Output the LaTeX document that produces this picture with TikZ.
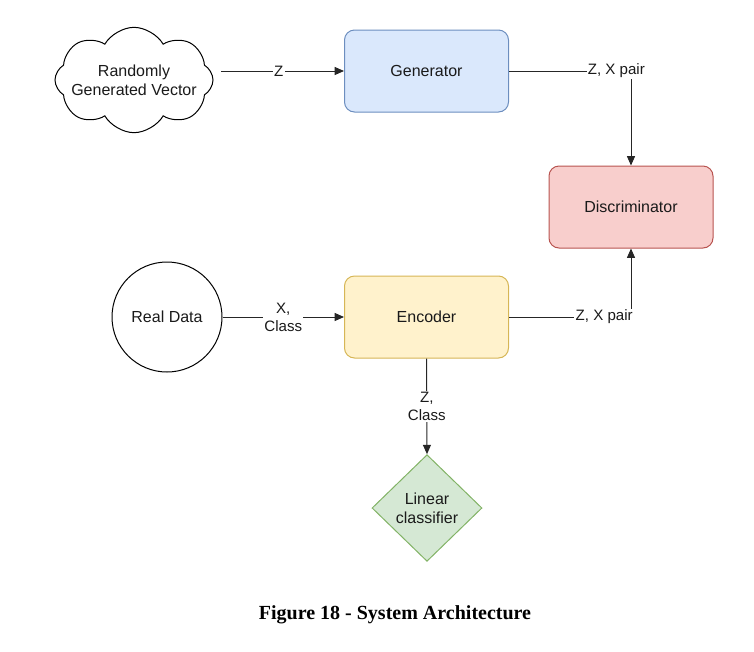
\documentclass[tikz,border=0pt]{standalone}
\usepackage{fontspec}
\setmainfont{Liberation Sans}
\newfontfamily\captionfont{Liberation Serif}
\usepackage{xcolor}
\usepackage{tikz}
\usetikzlibrary{positioning}
\usetikzlibrary{shapes.geometric,shapes.symbols}
\usetikzlibrary{arrows.meta}

\definecolor{genfill}{HTML}{DAE8FC}
\definecolor{gendraw}{HTML}{6C8EBF}
\definecolor{discfill}{HTML}{F8CECC}
\definecolor{discdraw}{HTML}{B85450}
\definecolor{encfill}{HTML}{FFF2CC}
\definecolor{encdraw}{HTML}{D6B656}
\definecolor{linfill}{HTML}{D5E8D4}
\definecolor{lindraw}{HTML}{82B366}
\definecolor{txt}{HTML}{1A1A1A}

\tikzset{
  box/.style={rectangle,rounded corners=7.5pt,line width=0.75pt,minimum width=123pt,minimum height=61.5pt,
    font=\fontsize{12}{14}\selectfont,text=txt},
  lbl/.style={fill=white,inner sep=1pt,align=center,font=\fontsize{11.3}{13.5}\selectfont,text=txt},
  arr/.style={-{Triangle[length=7pt,width=6pt]},line width=0.75pt,draw=black!85}
}

\begin{document}
\begin{tikzpicture}[x=0.75pt,y=-0.75pt]
\useasboundingbox (0,0) rectangle (754,651);
\node[cloud,cloud puffs=8,cloud puff arc=120,draw,line width=0.75pt,minimum width=118.5pt,minimum height=79pt] (vec) at (134,80) {};
\node[align=center,font=\fontsize{12}{14}\selectfont,text=txt] (vectxt) at (vec) {Randomly\\Generated Vector};
\node[box,fill=genfill,draw=gendraw]   (gen)  at (426.5,71) {Generator};
\node[box,fill=discfill,draw=discdraw] (disc) at (631,207)  {Discriminator};
\node[circle,draw,line width=0.75pt,minimum size=82.5pt,font=\fontsize{12}{14}\selectfont,text=txt] (real) at (167,317) {Real Data};
\node[box,fill=encfill,draw=encdraw]   (enc)  at (426.5,317) {Encoder};
\node[diamond,fill=linfill,draw=lindraw,line width=0.75pt,inner sep=0pt,minimum width=82.5pt,minimum height=80pt,
  align=center,font=\fontsize{12}{14}\selectfont,text=txt] (lin) at (427,508) {Linear\\classifier};

\draw[arr,shorten <=6pt] (vec.east |- gen.west) -- node[lbl] {Z} (gen.west);
\draw[arr] (gen.east) -| node[lbl,pos=0.44] {Z, X pair} (disc.north);
\draw[arr] (real.east) -- node[lbl] {X,\\Class} (enc.west);
\draw[arr] (enc.east) -| node[lbl,pos=0.39] {Z, X pair} (disc.south);
\draw[arr] (enc.south) -- node[lbl] {Z,\\Class} (lin.north);

\node[font=\captionfont\bfseries\fontsize{15}{18}\selectfont] (cap) at (395,615) {Figure 18 - System Architecture};
\end{tikzpicture}
\end{document}
